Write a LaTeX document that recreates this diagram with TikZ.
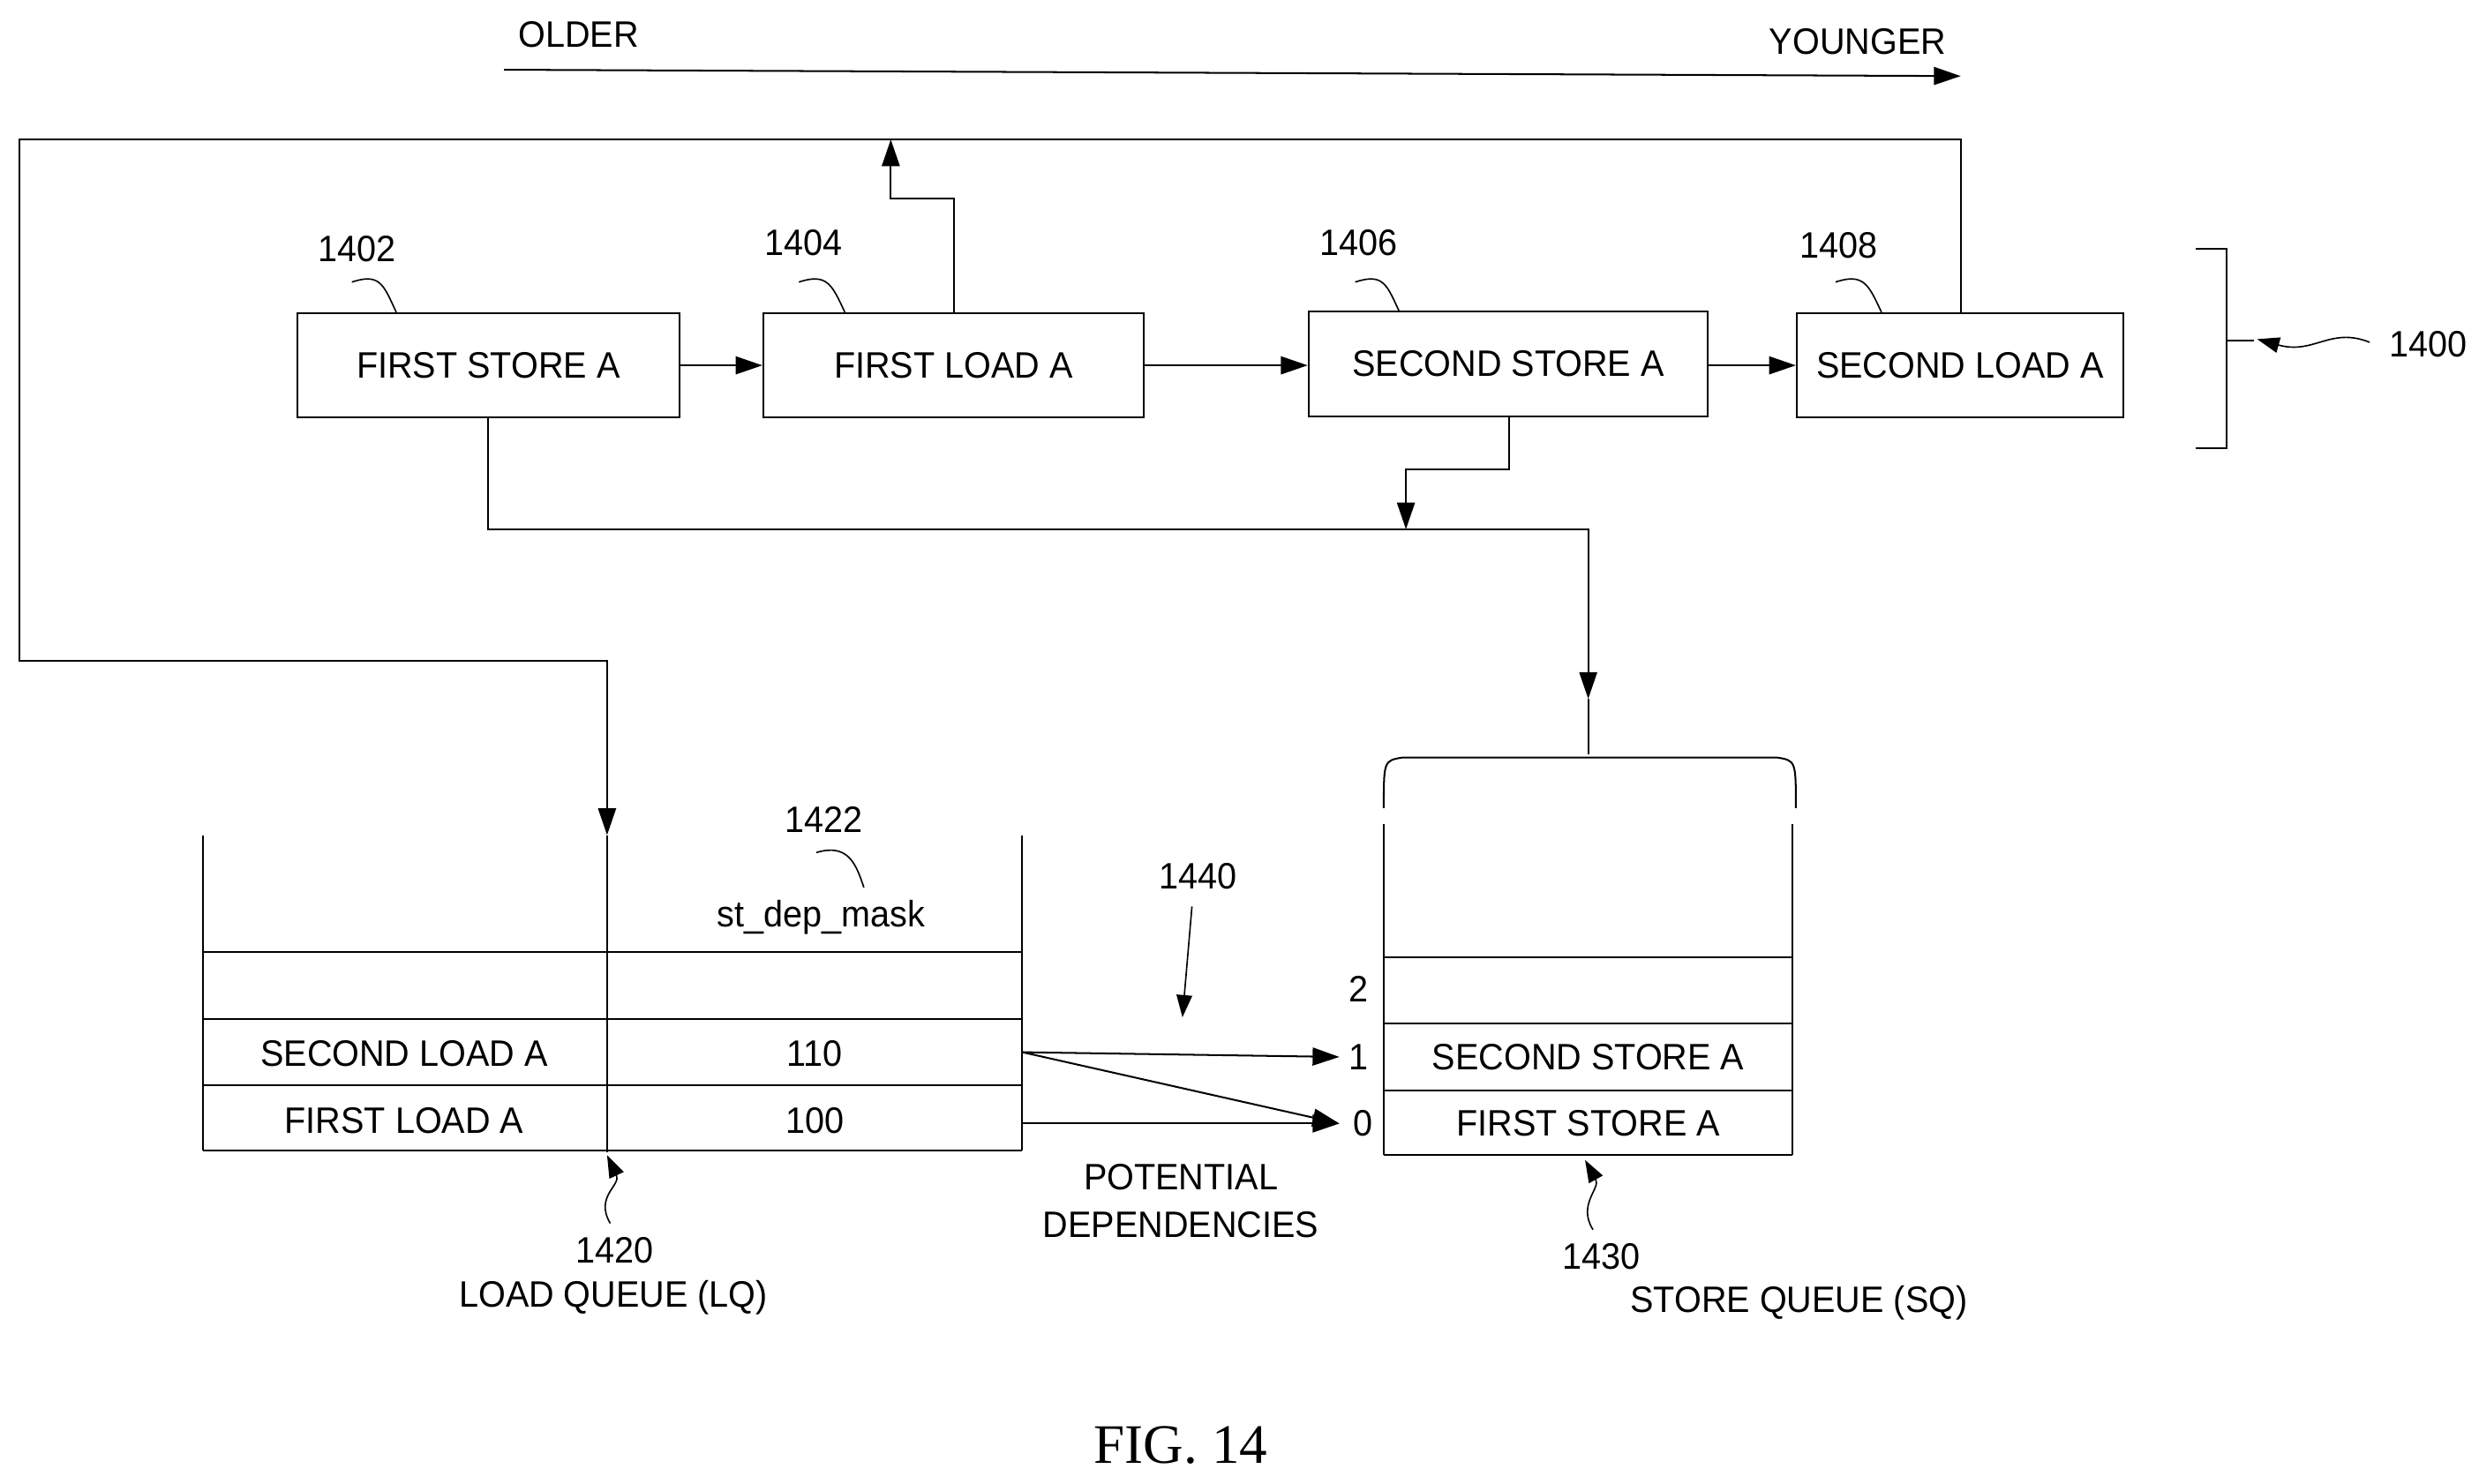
\documentclass[tikz,border=0pt]{standalone}
\usepackage{fontspec}
\setmainfont{Liberation Sans}
\newfontfamily\figfont{Liberation Serif}
\usetikzlibrary{arrows.meta}
\begin{document}
\begin{tikzpicture}[x=0.05cm,y=-0.05cm,line width=1.6pt,
  box/.style={draw,minimum height=3.3cm,inner sep=0pt,anchor=north west},
  txt/.style={font=\fontsize{33}{40}\selectfont,inner sep=0pt,xscale=0.95},
  arr/.style={-{Triangle[length=24pt,width=16pt]}},
  sq/.style={line width=1.3pt}]
\useasboundingbox (0,0) rectangle (1564,936);
% time arrow
\node[txt] (older) at (365,22) {OLDER};
\node[txt] (younger) at (1172,26) {YOUNGER};
\coordinate (ta) at (318,44); \coordinate (tb) at (1237,48);
\draw[arr] (ta) -- (tb);
% boxes
\node[box,minimum width=12.05cm] (b1) at (187,197) {};
\node[txt] at (b1.center) {FIRST STORE A};
\node[box,minimum width=12.0cm] (b2) at (481,197) {};
\node[txt] at (b2.center) {FIRST LOAD A};
\node[box,minimum width=12.6cm] (b3) at (825,196) {};
\node[txt] at (b3.center) {SECOND STORE A};
\node[box,minimum width=10.3cm] (b4) at (1133,197) {};
\node[txt] at (b4.center) {SECOND LOAD A};
\draw[arr] (b1.east) -- (b2.west);
\draw[arr] (b2.east) -- (b3.west|-b2.east);
\draw[arr] (b3.east|-b4.west) -- (b4.west);
% labels
\node[txt] (l1402) at (225,157) {1402};
\node[txt] (l1404) at (507,153) {1404};
\node[txt] (l1406) at (857,153) {1406};
\node[txt] (l1408) at (1160,155) {1408};
\foreach \a/\b in {222/250, 504/533, 855/883, 1158/1187}{
  \draw[sq] (\a,178) .. controls (\a+18,172) and (\b-8,180) .. (\b,197);}
% loop from 1408 to LQ
\coordinate (lq) at (383,527);
\draw[arr] (1237,197) -- (1237,88) -- (12,88) -- (12,417) -- (383,417) -- (lq);
\draw (lq) -- (383,727);
\draw[arr] (602,197) -- (602,125) -- (562,125) -- (562,88);
% to SQ
\coordinate (sqin) at (1002,441);
\draw[arr] (308,263) -- (308,334) -- (1002,334) -- (sqin);
\draw[arr] (952,263) -- (952,296) -- (887,296) -- (887,334);
% bracket 1400
\draw (1385,157) -- (1405,157) -- (1405,283) -- (1385,283);
\draw (1405,215) -- (1422,215);
\node[txt] (l1400) at (1532,217) {1400};
\draw[sq,-{Triangle[length=20pt,width=14pt]}] (1495,216) .. controls (1470,206) and (1460,224) .. (1424,214);
% SQ
\draw (sqin) -- (1002,476);
\draw (873,510) .. controls (873,480) .. (885,478) -- (1121,478) .. controls (1133,480) .. (1133,510);
\draw (873,520) -- (873,729) (1131,520) -- (1131,729);
\foreach \y in {604,646,688,729} \draw (873,\y) -- (1131,\y);
\node[txt] at (857,624) {2};
\node[txt] (s1) at (857,667) {1};
\node[txt] (s0) at (860,709) {0};
\node[txt] at (1002,667) {SECOND STORE A};
\node[txt] at (1002,709) {FIRST STORE A};
% LQ
\draw (128,527) -- (128,726) (645,527) -- (645,726);
\foreach \y in {601,643,685,726} \draw (128,\y) -- (645,\y);
\node[txt] at (255,665) {SECOND LOAD A};
\node[txt] at (514,665) {110};
\node[txt] at (255,707) {FIRST LOAD A};
\node[txt] at (514,707) {100};
\node[txt] at (518,579) {st\_dep\_mask};
\node[txt] (l1422) at (520,517) {1422};
\draw[sq] (515,538) .. controls (535,532) and (540,545) .. (545,560);
% dependencies
\draw[arr] (645,664) -- (845,667);
\draw[arr] (645,664) -- (845,709);
\draw[arr] (645,709) -- (845,709);
\node[txt] (l1440) at (756,553) {1440};
\draw[sq,-{Triangle[length=20pt,width=14pt]}] (752,572) -- (746,642);
\node[txt] at (745,743) {POTENTIAL};
\node[txt] at (745,773) {DEPENDENCIES};
% bottom labels
\node[txt] (l1420) at (388,789) {1420};
\node[txt] at (387,819) {LOAD QUEUE (LQ)};
\draw[sq,-{Triangle[length=20pt,width=14pt]}] (385,772) .. controls (375,755) and (392,748) .. (383,729);
\node[txt] (l1430) at (1010,793) {1430};
\node[txt] at (1135,822) {STORE QUEUE (SQ)};
\draw[sq,-{Triangle[length=20pt,width=14pt]}] (1005,776) .. controls (995,760) and (1010,750) .. (1000,732);
\node[inner sep=0pt,font=\figfont\fontsize{50}{58}\selectfont] at (745,912) {FIG. 14};
\end{tikzpicture}
\end{document}
